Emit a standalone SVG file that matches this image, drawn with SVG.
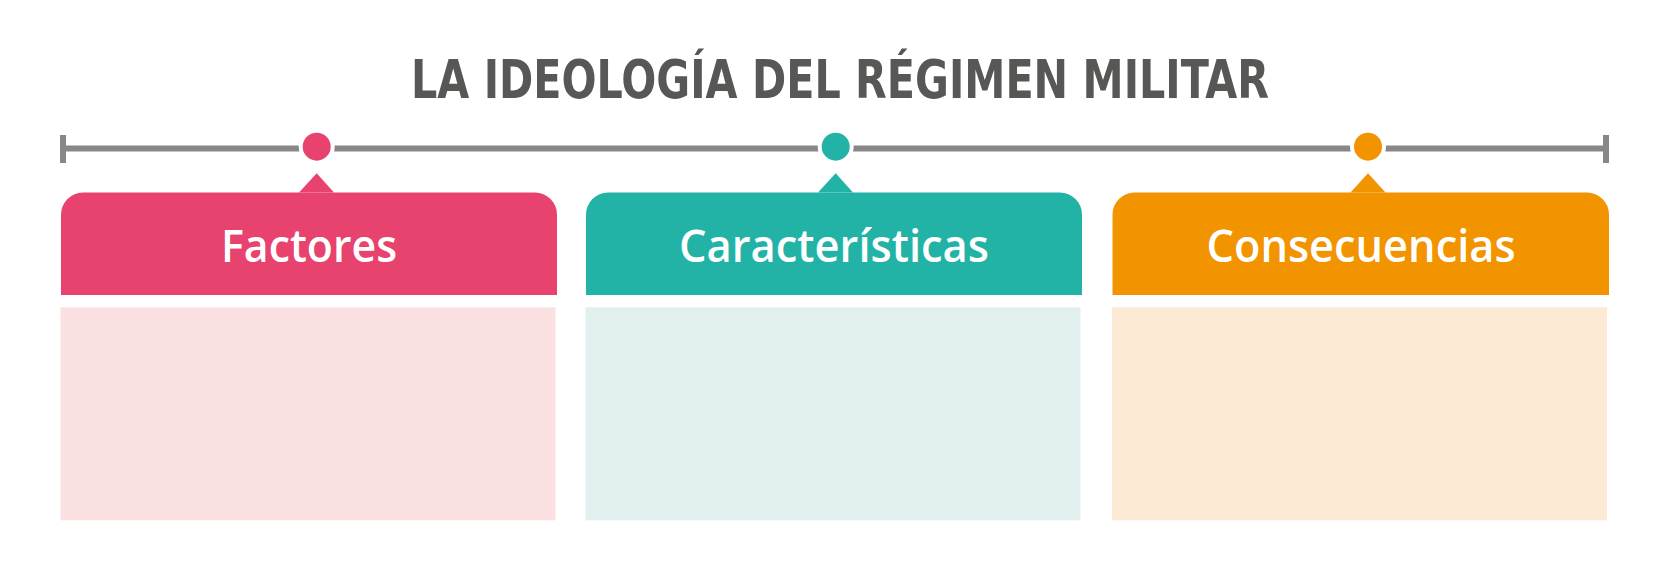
<svg xmlns="http://www.w3.org/2000/svg" width="1672" height="578" viewBox="0 0 1672 578">
<style>
.title{font-family:"DejaVu Sans Condensed","DejaVu Sans",sans-serif;font-weight:bold;font-size:54px;fill:#575756}
.hdr{font-family:"Open Sans","Noto Sans",sans-serif;font-weight:600;font-size:45px;fill:#ffffff}
.axis{stroke:#878787;stroke-width:6;fill:none}
.dot{stroke:#ffffff;stroke-width:4}
</style>
<rect width="1672" height="578" fill="#ffffff"/>
<text class="title" x="840" y="98" text-anchor="middle" textLength="858" lengthAdjust="spacingAndGlyphs">LA IDEOLOGÍA DEL RÉGIMEN MILITAR</text>
<g id="connectors">
<line class="axis" x1="63" y1="148.5" x2="1606" y2="148.5"/>
<line class="axis" x1="63" y1="135" x2="63" y2="163"/>
<line class="axis" x1="1606" y1="135" x2="1606" y2="163"/>
</g>
<g id="factores">
<circle class="dot" cx="316.7" cy="146.7" r="16" fill="#E8426E"/>
<path d="M316.7 173.3 L334 192.5 L299 192.5 Z" fill="#E8426E"/>
<path d="M61 295 V214.5 A22 22 0 0 1 83 192.5 H535 A22 22 0 0 1 557 214.5 V295 Z" fill="#E8426E"/>
<text class="hdr" x="309" y="261.7" text-anchor="middle" textLength="176" lengthAdjust="spacingAndGlyphs">Factores</text>
<rect x="60.5" y="307.3" width="495" height="213" fill="#FBE0E2"/>
</g>
<g id="caracteristicas">
<circle class="dot" cx="835.7" cy="146.7" r="16" fill="#22B3A6"/>
<path d="M835.7 173.3 L853 192.5 L818 192.5 Z" fill="#22B3A6"/>
<path d="M586 295 V214.5 A22 22 0 0 1 608 192.5 H1060 A22 22 0 0 1 1082 214.5 V295 Z" fill="#22B3A6"/>
<text class="hdr" x="834" y="261.7" text-anchor="middle" textLength="310" lengthAdjust="spacingAndGlyphs">Características</text>
<rect x="585.5" y="307.3" width="495" height="213" fill="#E1F0EF"/>
</g>
<g id="consecuencias">
<circle class="dot" cx="1368" cy="146.7" r="16" fill="#F29300"/>
<path d="M1368 173.3 L1385.5 192.5 L1350.5 192.5 Z" fill="#F29300"/>
<path d="M1112.5 295 V214.5 A22 22 0 0 1 1134.5 192.5 H1587 A22 22 0 0 1 1609 214.5 V295 Z" fill="#F29300"/>
<text class="hdr" x="1361" y="261.7" text-anchor="middle" textLength="309" lengthAdjust="spacingAndGlyphs">Consecuencias</text>
<rect x="1112" y="307.3" width="495" height="213" fill="#FDEAD4"/>
</g>
</svg>
